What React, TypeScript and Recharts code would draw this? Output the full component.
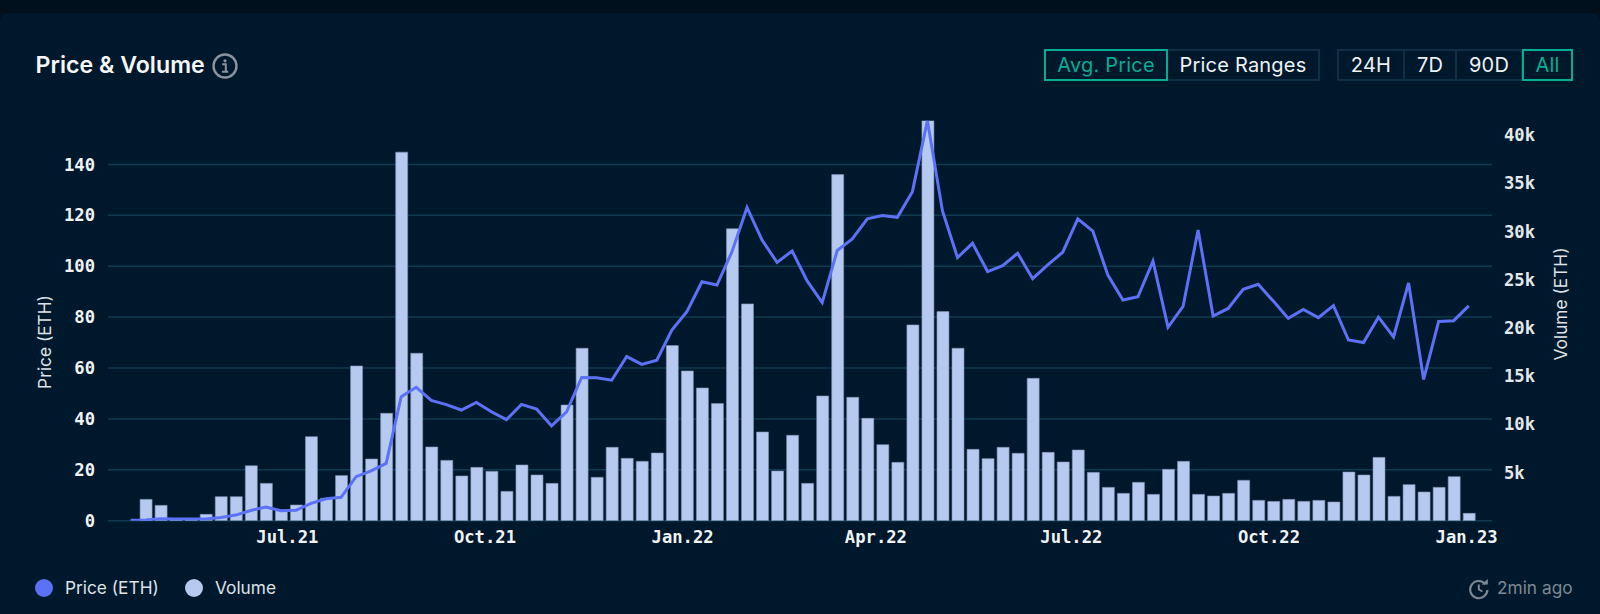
import React from "react";
import { ComposedChart, Bar, Line, XAxis, YAxis, CartesianGrid } from "recharts";

const weeks = [
  "2021-04-19","2021-04-26","2021-05-03","2021-05-10","2021-05-17","2021-05-24","2021-05-31","2021-06-07","2021-06-14","2021-06-21","2021-06-28",
  "2021-07-05","2021-07-12","2021-07-19","2021-07-26","2021-08-02","2021-08-09","2021-08-16","2021-08-23","2021-08-30","2021-09-06","2021-09-13","2021-09-20","2021-09-27",
  "2021-10-04","2021-10-11","2021-10-18","2021-10-25","2021-11-01","2021-11-08","2021-11-15","2021-11-22","2021-11-29","2021-12-06","2021-12-13","2021-12-20","2021-12-27",
  "2022-01-03","2022-01-10","2022-01-17","2022-01-24","2022-01-31","2022-02-07","2022-02-14","2022-02-21","2022-02-28","2022-03-07","2022-03-14","2022-03-21","2022-03-28",
  "2022-04-04","2022-04-11","2022-04-18","2022-04-25","2022-05-02","2022-05-09","2022-05-16","2022-05-23","2022-05-30","2022-06-06","2022-06-13","2022-06-20","2022-06-27",
  "2022-07-04","2022-07-11","2022-07-18","2022-07-25","2022-08-01","2022-08-08","2022-08-15","2022-08-22","2022-08-29","2022-09-05","2022-09-12","2022-09-19","2022-09-26",
  "2022-10-03","2022-10-10","2022-10-17","2022-10-24","2022-10-31","2022-11-07","2022-11-14","2022-11-21","2022-11-28","2022-12-05","2022-12-12","2022-12-19","2022-12-26","2023-01-02",
];

const prices = [
  0.2,0.3,0.8,0.7,0.7,0.7,1.3,2.2,4,5.4,3.9,4.1,6.8,8.6,9.2,17.3,19.6,22.5,48.7,52.4,47.3,45.6,43.5,46.5,42.8,39.7,45.7,43.9,37.3,42.8,
  56.3,56.2,55.2,64.5,61.4,63.1,74.9,82.1,93.9,92.6,105.7,123.1,110.3,101.5,106,94.2,85.7,106.2,110.7,118.6,119.9,119.2,129.3,157.2,121.7,103.4,109,97.9,100.2,105.1,
  95.1,100.5,105.5,118.6,113.8,96.5,86.7,88,102,76,84.2,114.2,80.4,83.4,90.9,92.9,86.3,79.5,83,79.8,84.5,71,70,80,72.2,93.4,55.5,78.3,78.6,84.4,
];

const volumes = [
  0,2214,1590,120,100,657,2490,2490,5700,3875,1100,1626,8720,2320,4680,16050,6400,11140,38230,17370,7650,6260,4640,5536,5120,3045,5780,4740,3875,12000,
  17890,4500,7610,6470,6160,7020,18165,15535,13770,12145,30290,22490,9200,5155,8860,3875,12940,35900,12800,10620,7890,6055,20310,41500,21690,17890,7400,6435,7610,6990,
  14770,7090,6090,7335,5017,3460,2837,3980,2733,5330,6160,2733,2560,2837,4190,2110,2000,2214,2007,2110,1940,5050,4740,6570,2525,3737,2975,3460,4567,760,
];

const timeLabels = ["Jul.21", "Oct.21", "Jan.22", "Apr.22", "Jul.22", "Oct.22", "Jan.23"];
const timeTicks = ["2021-07-01", "2021-10-01", "2022-01-01", "2022-04-01", "2022-07-01", "2022-10-01", "2023-01-01"].map((d) => Date.parse(d));
const priceTicks = [0, 20, 40, 60, 80, 100, 120, 140];
const volumeTicks = [5000, 10000, 15000, 20000, 25000, 30000, 35000, 40000];
const rows = weeks.map((w, i) => ({ t: Date.parse(w), price: prices[i], volume: volumes[i] }));
const xDomain = [Date.parse("2021-04-08T12:00:00Z"), Date.parse("2023-01-12T20:00:00Z")];

const UI = "Inter, 'Noto Sans', sans-serif";
const MONO = "'DejaVu Sans Mono', 'Liberation Mono', monospace";
const BG = "#00182b";
const BORDER = "#0e3047";
const TEAL = "#05ad94";

const Btn = ({ x, w, text, on }: { x: number; w: number; text: string; on?: boolean }) => (
  <div
    style={{
      position: "absolute", left: x, top: 49, width: w, height: 32, boxSizing: "border-box",
      border: on ? `2px solid ${TEAL}` : `2px solid ${BORDER}`, color: on ? TEAL : "#eef2f5",
      font: `400 20px ${UI}`, lineHeight: "28px", textAlign: "center", zIndex: on ? 2 : 1,
      letterSpacing: 0.2,
    }}
  >
    {text}
  </div>
);

const Legend = ({ x, color, text }: { x: number; color: string; text: string }) => (
  <>
    <div style={{ position: "absolute", left: x - 9, top: 579, width: 18, height: 18, borderRadius: 9, background: color }} />
    <div style={{ position: "absolute", left: x + 21, top: 577, color: "#dde3e8", font: `400 17.3px/22px ${UI}`, whiteSpace: "nowrap" }}>{text}</div>
  </>
);

const RotLabel = ({ x, y, text }: { x: number; y: number; text: string }) => (
  <div
    style={{
      position: "absolute", left: x, top: y, transform: "translate(-50%,-50%) rotate(-90deg)",
      color: "#dde3e8", font: `400 17.3px/20px ${UI}`, whiteSpace: "nowrap",
    }}
  >
    {text}
  </div>
);

export default function App() {
  return (
    <div style={{ position: "absolute", left: 0, top: 0, width: 1600, height: 614, overflow: "hidden", background: "#00101d" }}>
      <div style={{ position: "absolute", left: 0, top: 13, width: 1600, height: 601, background: BG, borderRadius: "8px 8px 0 0" }} />
      <div style={{ position: "absolute", left: 0, top: 0 }}>
        <ComposedChart
          width={1600}
          height={614}
          data={rows}
          margin={{ top: 120.4, right: 0, bottom: 63.3, left: 0 }}
        >
          <CartesianGrid yAxisId="left" vertical={false} stroke="#0f3a52" strokeWidth={1.5} syncWithTicks horizontalValues={priceTicks} />
          <XAxis
            dataKey="t"
            type="number"
            domain={xDomain}
            ticks={timeTicks}
            allowDataOverflow
            height={30}
            axisLine={false}
            tickLine={false}
            tickSize={0}
            tickMargin={10}
            tickFormatter={(v: number) => timeLabels[timeTicks.indexOf(v)]}
            interval={0}
            tick={{ fill: "#f0f3f5", fontFamily: MONO, fontSize: 17.2, fontWeight: 700 }}
          />
          <YAxis
            yAxisId="left"
            width={108}
            domain={[0, 157.3]}
            ticks={priceTicks}
            allowDataOverflow
            interval={0}
            axisLine={false}
            tickLine={false}
            tickSize={0}
            tickMargin={13}
            tick={{ fill: "#f0f3f5", fontFamily: MONO, fontSize: 17.2, fontWeight: 700 }}
          />
          <YAxis
            yAxisId="right"
            orientation="right"
            width={108}
            domain={[0, 41525]}
            ticks={volumeTicks}
            allowDataOverflow
            interval={0}
            axisLine={false}
            tickLine={false}
            tickSize={0}
            tickMargin={12}
            tickFormatter={(v: number) => `${v / 1000}k`}
            tick={{ fill: "#e3e8ec", fontFamily: MONO, fontSize: 17.2, fontWeight: 700 }}
          />
          <Bar yAxisId="right" dataKey="volume" barSize={12} fill="#b6c9ef" stroke="#7f92b6" strokeWidth={0.6} isAnimationActive={false} />
          <Line yAxisId="left" dataKey="price" type="linear" stroke="#5c72f6" strokeWidth={3} dot={false} activeDot={false} isAnimationActive={false} />
        </ComposedChart>
      </div>

      <div style={{ position: "absolute", left: 35.5, top: 50, color: "#f4f6f8", font: `600 23.2px/30px ${UI}`, whiteSpace: "nowrap" }}>Price &amp; Volume</div>
      <svg style={{ position: "absolute", left: 211, top: 52 }} width="28" height="28" viewBox="0 0 28 28">
        <circle cx="14" cy="14" r="11.5" fill="none" stroke="#8a949e" strokeWidth="2.4" />
        <circle cx="14" cy="8.8" r="1.6" fill="#8a949e" />
        <path d="M11.2 12.2h3.6v7.4M11 19.8h6.2" fill="none" stroke="#8a949e" strokeWidth="2" />
      </svg>

      <Btn x={1044} w={124} text="Avg. Price" on />
      <Btn x={1166} w={154} text="Price Ranges" />
      <Btn x={1337} w={68} text="24H" />
      <Btn x={1403} w={54} text="7D" />
      <Btn x={1455} w={68} text="90D" />
      <Btn x={1522} w={51} text="All" on />

      <RotLabel x={45} y={341.7} text="Price (ETH)" />
      <RotLabel x={1561} y={303.5} text="Volume (ETH)" />

      <Legend x={44} color="#5c72f6" text="Price (ETH)" />
      <Legend x={194} color="#b6c9ef" text="Volume" />

      <svg style={{ position: "absolute", left: 1468, top: 578 }} width="22" height="22" viewBox="0 0 22 22">
        <path d="M17.5 6.2A8.6 8.6 0 1 0 19.4 12" fill="none" stroke="#7d8894" strokeWidth="2.2" />
        <path d="M13.6 6.6h6.2V1z" fill="#7d8894" />
        <path d="M10.8 6.5v5l3.6 2" fill="none" stroke="#7d8894" strokeWidth="2" />
      </svg>
      <div style={{ position: "absolute", left: 1497, top: 577, color: "#7d8894", font: `400 17.3px/22px ${UI}`, whiteSpace: "nowrap" }}>2min ago</div>
    </div>
  );
}
